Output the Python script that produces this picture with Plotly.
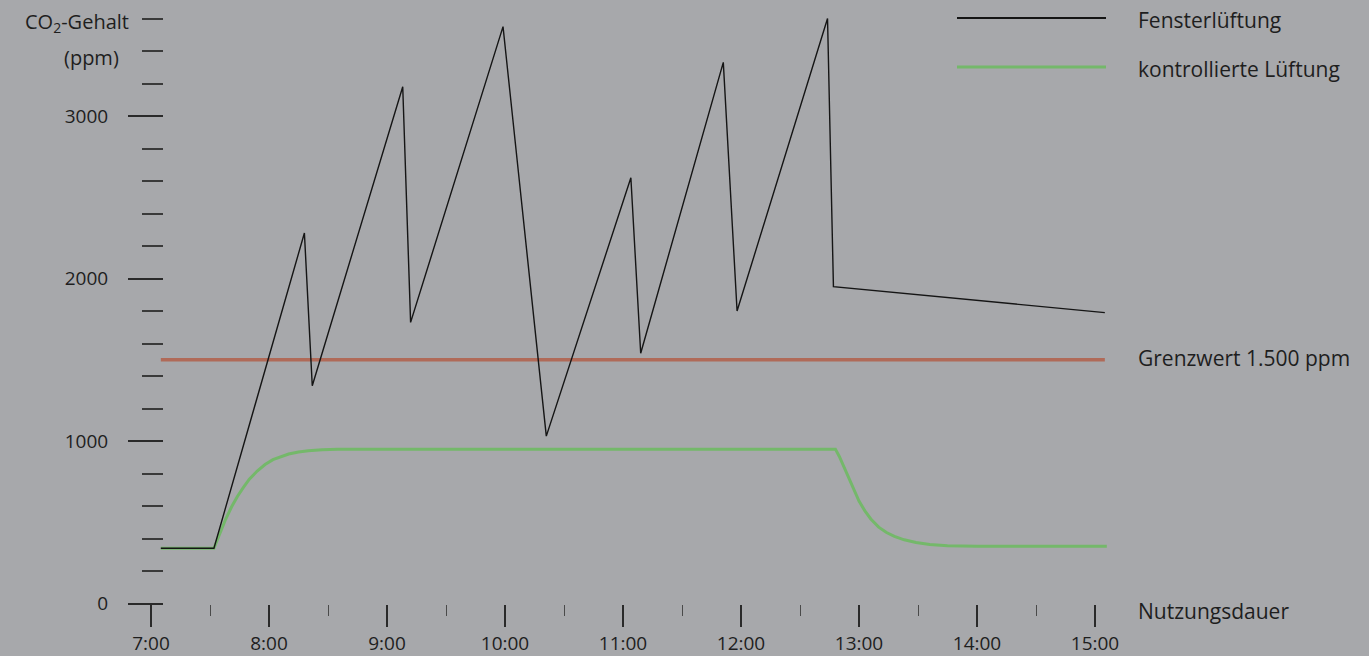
import plotly.graph_objects as go

# ---------------- data ----------------
hour_labels = ["7:00", "8:00", "9:00", "10:00", "11:00", "12:00", "13:00", "14:00", "15:00"]
ppm_tick_labels = ["0", "1000", "2000", "3000"]
ppm_tick_values = [0, 1000, 2000, 3000]

fenster_times = ["7:05", "7:32", "8:18", "8:22", "9:08", "9:12", "9:59", "10:21",
                 "11:04", "11:09", "11:51", "11:58", "12:44", "12:47", "15:05"]
fenster_ppm = [340, 340, 2280, 1340, 3180, 1730, 3550, 1030,
               2620, 1540, 3330, 1800, 3600, 1950, 1790]

kontroll_times = ["7:05", "7:32", "7:34", "7:36", "7:38", "7:41", "7:44", "7:47", "7:50",
                  "7:54", "7:58", "8:02", "8:06", "8:10", "8:15", "8:20", "8:27", "8:35",
                  "9:00", "12:48", "12:50", "12:52", "12:54", "12:57", "13:00", "13:03",
                  "13:06", "13:10", "13:14", "13:18", "13:23", "13:29", "13:36", "13:45",
                  "14:00", "15:06"]
kontroll_ppm = [340, 340, 400, 460, 520, 595, 660, 715, 765,
                815, 855, 885, 905, 920, 932, 940, 946, 949,
                950, 950, 905, 850, 790, 705, 630, 570,
                520, 470, 437, 413, 392, 375, 363, 356,
                352, 352]

grenz_times = ["7:05", "15:05"]
grenz_ppm = [1500, 1500]

series_names = ["Fensterlüftung", "kontrollierte Lüftung"]
grenz_label = "Grenzwert 1.500 ppm"
x_title = "Nutzungsdauer"
y_title_1 = "CO<sub>2</sub>-Gehalt"
y_title_2 = "(ppm)"


def to_hours(t):
    h, m = t.split(":")
    return int(h) + int(m) / 60.0


# ---------------- style ----------------
W, H = 1369, 656
BG = "rgb(167,168,171)"
TXT = "#1e1e1e"
FONT = "Open Sans"
BLACK = "#151515"
GREEN = "#74b86a"
RED = "rgb(176,106,88)"

fig = go.Figure()

fig.add_trace(go.Scatter(
    x=[to_hours(t) for t in grenz_times], y=grenz_ppm, mode="lines",
    line=dict(color=RED, width=3.5), hoverinfo="skip", showlegend=False))

fig.add_trace(go.Scatter(
    x=[to_hours(t) for t in kontroll_times], y=kontroll_ppm, mode="lines",
    line=dict(color=GREEN, width=3),
    name=series_names[1], hoverinfo="skip", showlegend=False))

fig.add_trace(go.Scatter(
    x=[to_hours(t) for t in fenster_times], y=fenster_ppm, mode="lines",
    line=dict(color=BLACK, width=1.4),
    name=series_names[0], hoverinfo="skip", showlegend=False))


# pixel helpers for layout placement (paper coords, margins are zero)
def px_x(p):
    return p / W


def px_y(p):
    return 1 - p / H


x_left_px, x_right_px = 151, 1110
px_per_hour = 118.0
y_zero_px, px_per_ppm = 603.5, 0.1625
y_max = 3700

fig.update_layout(
    width=W, height=H,
    margin=dict(l=0, r=0, t=0, b=0),
    paper_bgcolor=BG, plot_bgcolor=BG,
    font=dict(family=FONT, color=TXT, size=20),
    template="none",
    showlegend=False,
    xaxis=dict(
        range=[7, 7 + (x_right_px - x_left_px) / px_per_hour],
        domain=[px_x(x_left_px), px_x(x_right_px)],
        tickmode="array",
        tickvals=[to_hours(t) for t in hour_labels],
        ticktext=hour_labels,
        ticks="outside", ticklen=22, tickwidth=1.6, tickcolor="#2a2a2a",
        ticklabelstandoff=1,
        tickfont=dict(size=19, color=TXT, family=FONT),
        minor=dict(dtick=0.5, tick0=7, ticks="outside", ticklen=11, tickwidth=1.3,
                   tickcolor="#4a4a4a", showgrid=False),
        showline=False, showgrid=False, zeroline=False, automargin=False,
        anchor="y", fixedrange=True,
    ),
    yaxis=dict(
        range=[0, y_max],
        domain=[px_y(y_zero_px), px_y(y_zero_px - y_max * px_per_ppm)],
        anchor="free", position=px_x(163), side="left",
        tickmode="array", tickvals=ppm_tick_values, ticktext=ppm_tick_labels,
        ticks="outside", ticklen=35, tickwidth=2, tickcolor="#2a2a2a",
        ticklabelstandoff=16,
        tickfont=dict(size=19, color=TXT, family=FONT),
        minor=dict(dtick=200, tick0=0, ticks="outside", ticklen=21, tickwidth=1.6,
                   tickcolor="#3a3a3a", showgrid=False),
        showline=False, showgrid=False, zeroline=False, automargin=False,
        fixedrange=True,
    ),
)

# custom legend (long line samples + labels on the right)
legend_items = [(series_names[0], BLACK, 1.8, 18), (series_names[1], GREEN, 3, 67)]
for label, col, wdt, ypx in legend_items:
    fig.add_shape(type="line", xref="paper", yref="paper",
                  x0=px_x(957), x1=px_x(1106), y0=px_y(ypx), y1=px_y(ypx),
                  line=dict(color=col, width=wdt))
    fig.add_annotation(text=label, xref="paper", yref="paper",
                       x=px_x(1136), y=px_y(ypx + 2), xanchor="left", yanchor="middle",
                       showarrow=False, font=dict(size=21, color=TXT, family=FONT))

fig.add_annotation(text=grenz_label, xref="paper", yref="paper",
                   x=px_x(1136), y=px_y(358), xanchor="left", yanchor="middle",
                   showarrow=False, font=dict(size=21, color=TXT, family=FONT))
fig.add_annotation(text=x_title, xref="paper", yref="paper",
                   x=px_x(1136), y=px_y(611), xanchor="left", yanchor="middle",
                   showarrow=False, font=dict(size=21, color=TXT, family=FONT))
fig.add_annotation(text=y_title_1, xref="paper", yref="paper",
                   x=px_x(131), y=px_y(22), xanchor="right", yanchor="middle",
                   showarrow=False, font=dict(size=20, color=TXT, family=FONT))
fig.add_annotation(text=y_title_2, xref="paper", yref="paper",
                   x=px_x(121), y=px_y(57), xanchor="right", yanchor="middle",
                   showarrow=False, font=dict(size=20, color=TXT, family=FONT))

fig.write_html("out.html", include_plotlyjs=True,
               config={"displayModeBar": False},
               post_script="document.body.style.margin='0';document.body.style.overflow='hidden';")
